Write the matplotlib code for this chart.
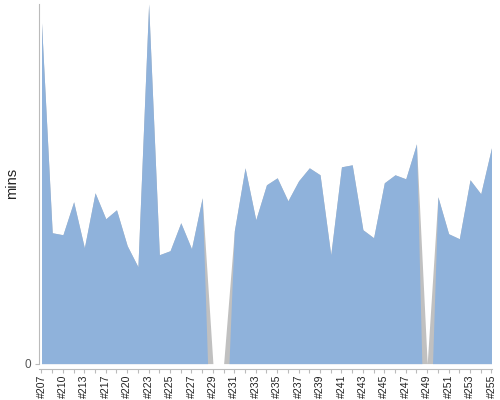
import numpy as np
import matplotlib.pyplot as plt
from matplotlib.ticker import FixedLocator, FixedFormatter

plt.rcParams['font.family'] = ['Liberation Sans', 'DejaVu Sans']

builds = ['#207', '#208', '#210', '#211', '#213', '#215', '#217', '#218', '#220', '#221',
          '#223', '#224', '#225', '#226', '#227', '#228', '#229', '#230', '#231', '#232',
          '#233', '#234', '#235', '#236', '#237', '#238', '#239', '#240', '#241', '#242',
          '#243', '#244', '#245', '#246', '#247', '#248', '#249', '#250', '#251', '#252',
          '#253', '#254', '#255']
mins = [34.1, 13.1, 12.9, 16.2, 11.6, 17.1, 14.5, 15.4, 11.8, 9.7,
        36.0, 10.9, 11.3, 14.1, 11.5, 16.6, 0, 0, 13.3, 19.6,
        14.4, 17.9, 18.6, 16.3, 18.3, 19.6, 18.9, 10.9, 19.7, 19.9,
        13.4, 12.6, 18.1, 18.9, 18.5, 22.0, 0, 16.7, 13.0, 12.5,
        18.4, 17.0, 21.6]

blue = '#8fb2db'
grey = '#c0c0c0'
axis_col = '#bbbbbb'

x = np.arange(len(mins))
y = np.array(mins, dtype=float)

fig = plt.figure(figsize=(5, 4), dpi=100)
ax = fig.add_axes([0.077, 0.091, 0.907, 0.899])

# grey layer runs down to the empty builds, blue stops half way
ax.fill_between(x, y, color=grey, linewidth=0)
runs = []
cur = []
for i, v in enumerate(y):
    if v > 0:
        cur.append(i)
    elif cur:
        runs.append(cur)
        cur = []
if cur:
    runs.append(cur)
for run in runs:
    xs = list(run)
    ys = list(y[run])
    if run[0] > 0:
        xs = [run[0] - 0.5] + xs
        ys = [0] + ys
    if run[-1] < len(y) - 1:
        xs = xs + [run[-1] + 0.5]
        ys = ys + [0]
    ax.fill_between(xs, ys, color=blue, linewidth=0)

ax.set_xlim(-0.28, len(mins) - 1 + 0.05)
ax.set_ylim(0, 36.0)

ax.xaxis.set_major_locator(FixedLocator(x[::2]))
ax.xaxis.set_major_formatter(FixedFormatter(builds[::2]))
ax.xaxis.set_minor_locator(FixedLocator(x[1::2]))
ax.tick_params(axis='x', which='both', length=3, width=0.8, color=axis_col, pad=1,
               labelrotation=90, labelsize=7.6, labelcolor='#222222')
ax.set_yticks([0])
ax.set_yticklabels(['0'])
ax.tick_params(axis='y', length=3, width=0.8, color=axis_col, pad=2,
               labelsize=8.5, labelcolor='#555555')

for side in ['top', 'right']:
    ax.spines[side].set_visible(False)
ax.spines['left'].set_color(axis_col)
ax.spines['bottom'].set_color(axis_col)
ax.spines['bottom'].set_position(('outward', 4))

ax.set_ylabel('mins', fontsize=10.5, color='#222222')
ax.yaxis.set_label_coords(-0.042, 0.5)

fig.savefig('out.png', dpi=100)
